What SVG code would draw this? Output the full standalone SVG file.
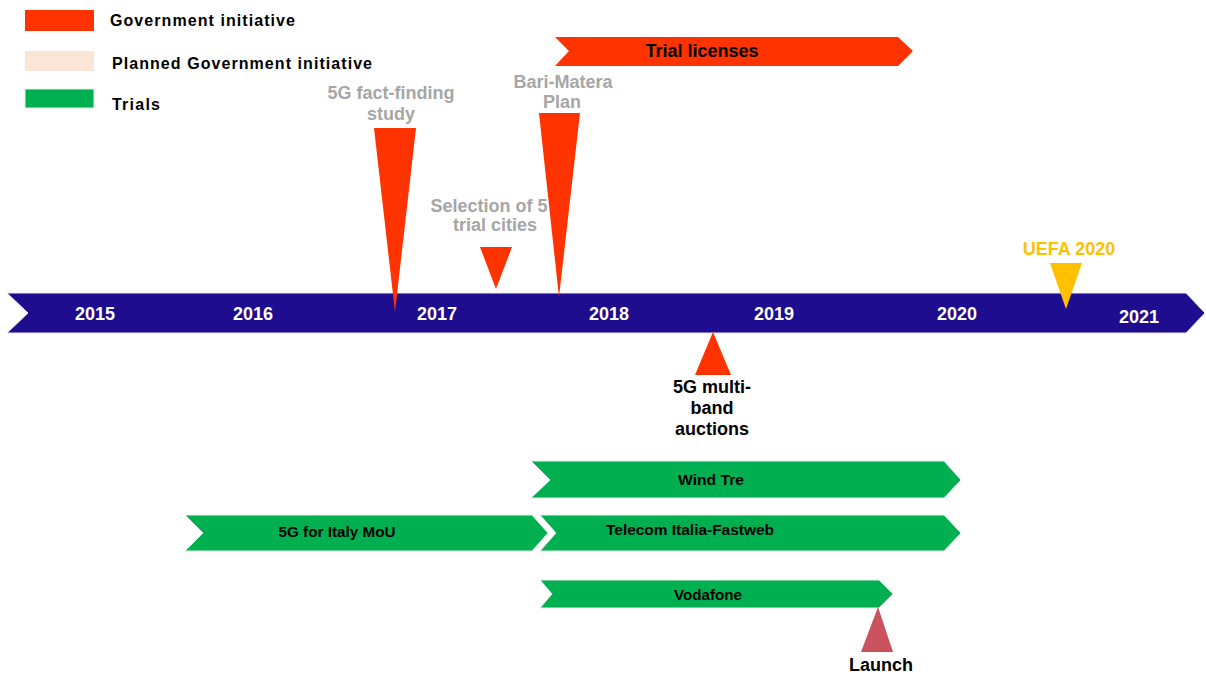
<svg xmlns="http://www.w3.org/2000/svg" width="1206" height="675" viewBox="0 0 1206 675">
<style>
text{font-family:"Liberation Sans",Arial,sans-serif;font-weight:bold}
.leg{font-size:16px;fill:#000}
.yr{font-size:18px;fill:#fff;text-anchor:middle}
.gl{font-size:18px;fill:#A6A6A6;text-anchor:middle}
.bl{font-size:18px;fill:#000;text-anchor:middle}
.tr{font-size:14.5px;fill:#000;text-anchor:middle}
.red{fill:#FF3300}
.grn{fill:#00B050;stroke:#E6EEE6;stroke-width:1}
</style>
<rect width="1206" height="675" fill="#fff"/>
<g id="legend">
<rect x="25" y="10" width="69" height="21" class="red"/>
<text class="leg" x="110" y="26" textLength="185" lengthAdjust="spacing">Government initiative</text>
<rect x="25" y="51" width="69" height="20" fill="#FBE5D6"/>
<text class="leg" x="112" y="69" textLength="260" lengthAdjust="spacing">Planned Government initiative</text>
<rect x="25" y="89" width="69" height="19" class="grn"/>
<text class="leg" x="112" y="110" textLength="48" lengthAdjust="spacing">Trials</text>
</g>
<g id="timeline">
<polygon points="7,293 1186,293 1205,313 1186,333 7,333 28,313" fill="#1F0D8F" stroke="#E8E8F0" stroke-width="1"/>
<text class="yr" x="95" y="320">2015</text>
<text class="yr" x="253" y="320">2016</text>
<text class="yr" x="437" y="320">2017</text>
<text class="yr" x="609" y="320">2018</text>
<text class="yr" x="774" y="320">2019</text>
<text class="yr" x="957" y="320">2020</text>
<text class="yr" x="1139" y="323">2021</text>
</g>
<g id="trial-licenses">
<polygon points="555,37 898,37 913,51 898,66 555,66 569,51" class="red"/>
<text class="bl" x="702" y="57">Trial licenses</text>
</g>
<g id="fact-finding">
<polygon points="374,128 416,128 395,312" class="red"/>
<text class="gl" x="391" y="99">5G fact-finding</text>
<text class="gl" x="391" y="120">study</text>
</g>
<g id="trial-cities">
<polygon points="480,247 512,247 496,289" class="red"/>
<text class="gl" x="489" y="212">Selection of 5</text>
<text class="gl" x="495" y="231">trial cities</text>
</g>
<g id="bari-matera">
<polygon points="539,113 580,113 559,297" class="red"/>
<text class="gl" x="563" y="88">Bari-Matera</text>
<text class="gl" x="562" y="108">Plan</text>
</g>
<g id="uefa">
<polygon points="1050,263 1082,263 1066,309" fill="#FFC000"/>
<text class="gl" x="1069" y="255" style="fill:#FFC000">UEFA 2020</text>
</g>
<g id="auctions">
<polygon points="713,332 731,375 695,375" class="red"/>
<text class="bl" x="712" y="393">5G multi-</text>
<text class="bl" x="712" y="414">band</text>
<text class="bl" x="712" y="435">auctions</text>
</g>
<g id="wind-tre">
<polygon points="531,461 944,461 961,480 944,498 531,498 550,480" class="grn"/>
<text class="tr" x="711" y="485" textLength="66" lengthAdjust="spacingAndGlyphs">Wind Tre</text>
</g>
<g id="mou">
<polygon points="185,515 532,515 548,533 532,551 185,551 203,533" class="grn"/>
<text class="tr" x="337" y="537" textLength="117" lengthAdjust="spacingAndGlyphs">5G for Italy MoU</text>
</g>
<g id="telecom">
<polygon points="540,515 944,515 961,533 944,551 540,551 556,533" class="grn"/>
<text class="tr" x="690" y="535" textLength="168" lengthAdjust="spacingAndGlyphs">Telecom Italia-Fastweb</text>
</g>
<g id="vodafone">
<polygon points="540,580 879,580 893,594 879,608 540,608 552,594" class="grn"/>
<text class="tr" x="708" y="600" textLength="68" lengthAdjust="spacingAndGlyphs">Vodafone</text>
</g>
<g id="launch">
<polygon points="878,607 893,652 861,652" fill="#C9525E"/>
<text class="bl" x="881" y="671">Launch</text>
</g>
<g id="connectors"></g>
</svg>
